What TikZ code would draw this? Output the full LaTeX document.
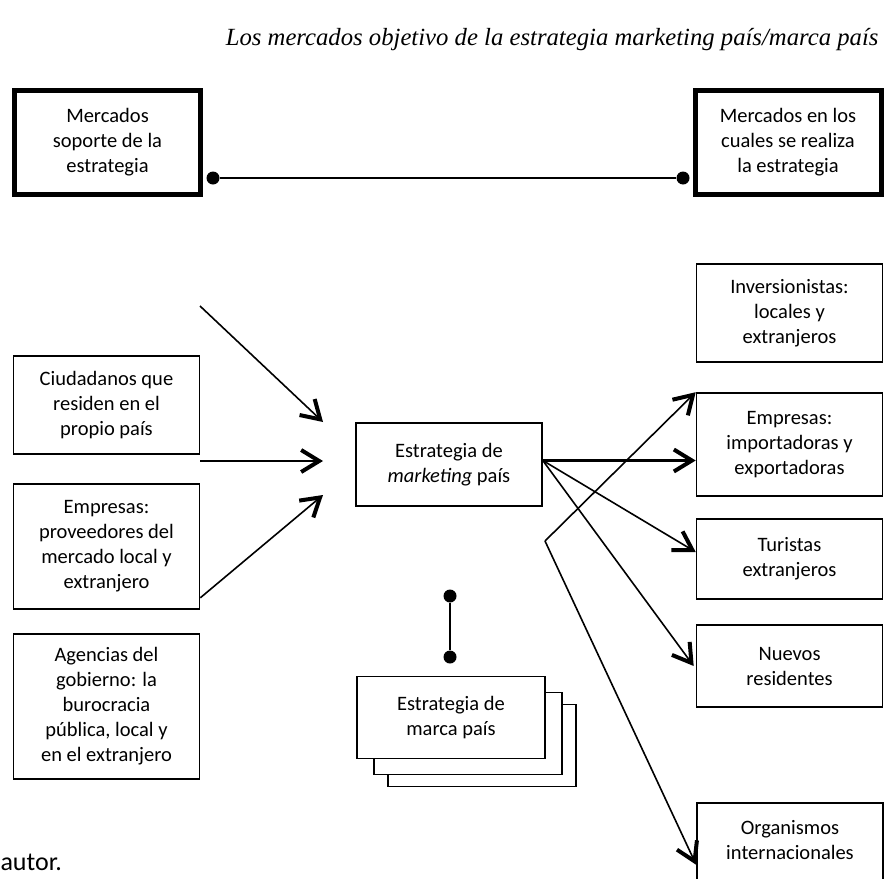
\documentclass[tikz,border=0pt]{standalone}
\usepackage{fontspec}
\setmainfont{Carlito}
\newfontfamily\titlefont{Liberation Serif}
\usetikzlibrary{arrows.meta}

\tikzstyle{box}=[rectangle,draw,line width=1.6pt,align=center,minimum width=186pt,inner sep=0pt]
\tikzstyle{bigbox}=[box,line width=5pt,minimum height=104pt]
\tikzstyle{dot}=[circle,fill,inner sep=0pt,minimum size=13pt]
\tikzstyle{arr}=[-{Straight Barb[length=18pt,width=22pt,line width'=4pt]},line width=1.6pt]

\begin{document}
\begin{tikzpicture}[x=1pt,y=-1pt,font=\fontsize{20.5}{25}\selectfont]
\useasboundingbox (0,0) rectangle (885,878);
\clip (0,0) rectangle (885,878);
\node[anchor=base east,font=\titlefont\itshape\fontsize{24.7}{28}\selectfont] (title) at (882,45) {Los mercados objetivo de la estrategia marketing país/marca país};

\node[bigbox] (sop) at (107.5,142.5) {Mercados\\soporte de la\\estrategia};
\node[bigbox] (real) at (788,142.5) {Mercados en los\\cuales se realiza\\la estrategia};
\node[dot] (dsop) at (213,178) {};
\node[dot] (dreal) at (683,178) {};
\draw[line width=2pt] (dsop) -- (dreal);

\node[box,minimum height=98pt] (ciud) at (106.5,405) {Ciudadanos que\\residen en el\\propio país};
\node[box,minimum height=125pt] (prov) at (106.5,546.5) {Empresas:\\proveedores del\\mercado local y\\extranjero};
\node[box,minimum height=145pt] (agen) at (106.5,706.5) {Agencias del\\gobierno: la\\burocracia\\pública, local y\\en el extranjero};

\node[box,minimum height=83pt] (mkt) at (449,464.5) {Estrategia de\\\textit{marketing} país};

\coordinate (in1) at (200,306);
\coordinate (in2) at (200,461);
\coordinate (t1) at (323,422);
\coordinate (t2) at (323,461);
\coordinate (t3) at (323,495);
\draw[arr] (in1) -- (t1);
\draw[arr] (in2) -- (t2);
\draw[arr] ([yshift=12pt]prov.south east) -- (t3);

\node[box,minimum height=98pt] (inv) at (789.5,313) {Inversionistas:\\locales y\\extranjeros};
\node[box,minimum height=103pt] (imp) at (789.5,444.5) {Empresas:\\importadoras y\\exportadoras};
\node[box,minimum height=80pt] (tur) at (789.5,559) {Turistas\\extranjeros};
\node[box,minimum height=82pt] (nuev) at (789.5,666) {Nuevos\\residentes};
\node[box,minimum height=100pt,anchor=north] (org) at (790,802) {Organismos\\internacionales\\[1pt]};

\coordinate (out) at ([yshift=4pt]mkt.east);
\coordinate (j) at (545,541);
\draw[arr,line width=2.6pt] (out) -- (out -| imp.west);
\draw[arr] (out) -- ([yshift=7pt]tur.west);
\draw[arr] (out) -- ([xshift=-2pt]nuev.west);
\draw[arr] (j) -- (imp.north west);
\draw[arr] (j) -- ([yshift=-12pt]org.west);

\node[box,minimum width=188pt,minimum height=82pt] (marca3) at (482,745.5) {};
\node[box,minimum width=188pt,minimum height=82pt,fill=white] (marca2) at (468,733.5) {};
\node[box,minimum width=188pt,minimum height=82pt,fill=white] (marca) at (451,717.5) {Estrategia de\\marca país};
\node[dot] (dm1) at (450,596) {};
\node[dot] (dm2) at (450,657) {};
\draw[line width=2pt] (dm1) -- (dm2);

\node[anchor=base west,font=\fontsize{26}{30}\selectfont] (fuente) at (-3,870) {autor.};
\end{tikzpicture}
\end{document}
